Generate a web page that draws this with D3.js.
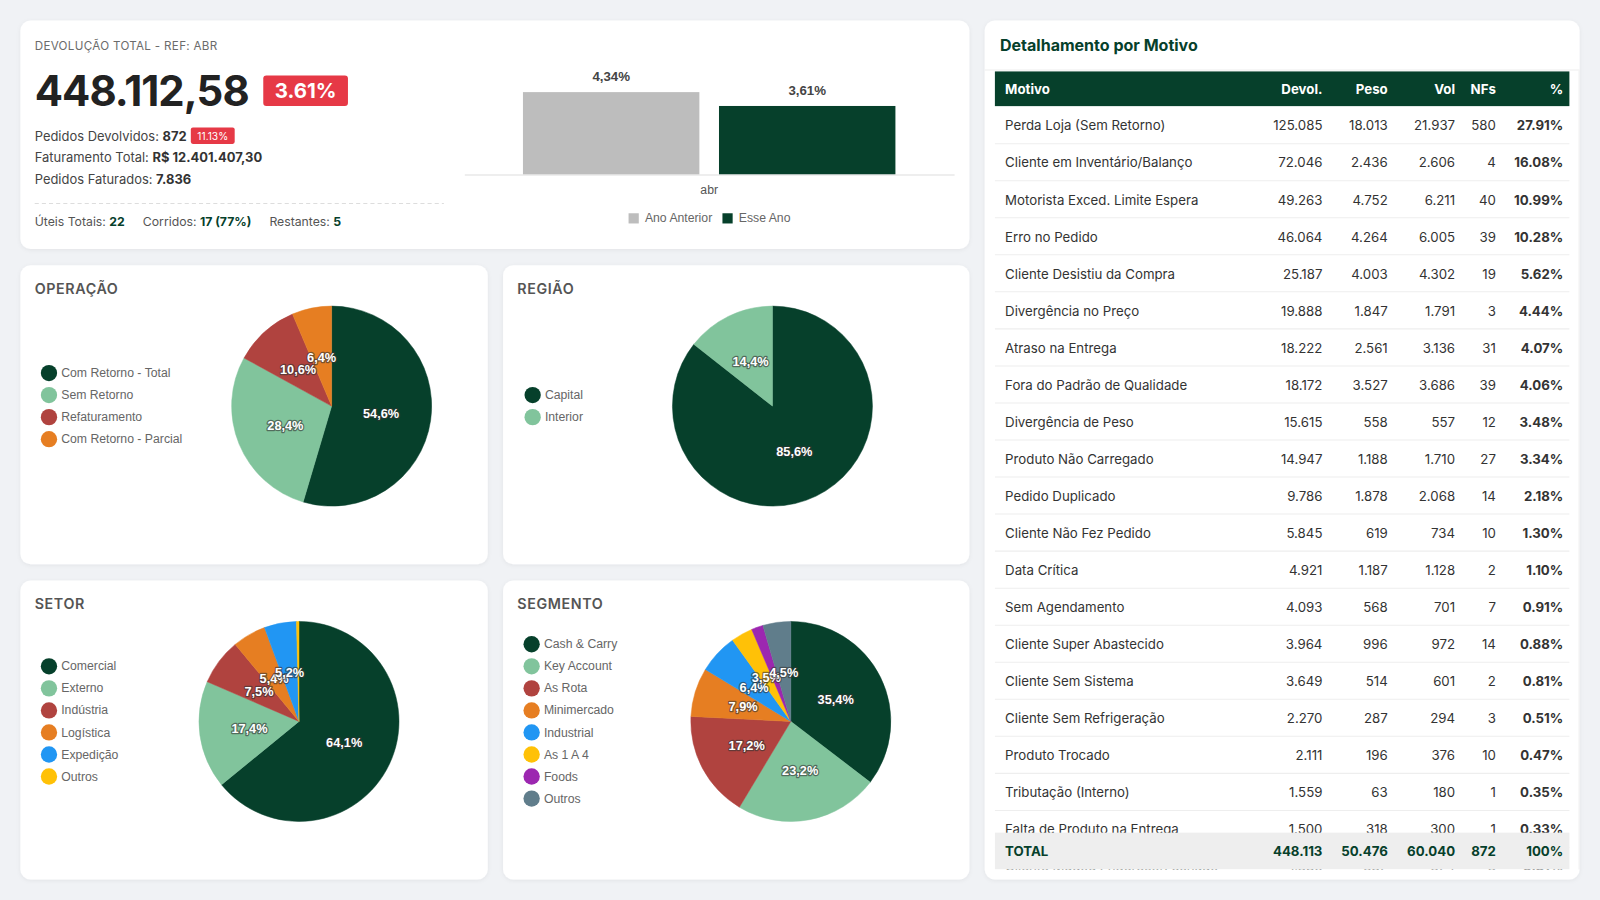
<!DOCTYPE html>
<html><head><meta charset="utf-8">
<script src="https://cdn.jsdelivr.net/npm/d3@7"></script>
<style>
body{margin:0;background:#f0f2f5;overflow:hidden;}
svg{display:block;}
svg text{font-family:Inter,"Noto Sans",sans-serif;}
svg text.gc{font-family:"Liberation Sans",Arial,sans-serif;}
</style></head><body>
<svg id="c" width="1600" height="900" viewBox="0 0 1568 882"></svg>
<script>
// ---------- DATA ----------
const kpiTitle = "DEVOLUÇÃO TOTAL - REF: ABR";
const kpiValue = "448.112,58";
const kpiBadge = "3.61%";
const kpiLines = [
  ["Pedidos Devolvidos: ", "872"],
  ["Faturamento Total: ", "R$ 12.401.407,30"],
  ["Pedidos Faturados: ", "7.836"]
];
const kpiSmallBadge = "11.13%";
const kpiDays = [["Úteis Totais: ", "22"], ["Corridos: ", "17 (77%)"], ["Restantes: ", "5"]];

const barCategories = ["abr"];
const barSeries = ["Ano Anterior", "Esse Ano"];
const barValues = [4.34, 3.61];
const barColors = ["#bdbdbd", "#06402b"];

const opLabels = ["Com Retorno - Total", "Sem Retorno", "Refaturamento", "Com Retorno - Parcial"];
const opValues = [54.6, 28.4, 10.6, 6.4];
const regLabels = ["Capital", "Interior"];
const regValues = [85.6, 14.4];
const setorLabels = ["Comercial", "Externo", "Indústria", "Logística", "Expedição", "Outros"];
const setorValues = [64.1, 17.4, 7.5, 5.4, 5.2, 0.4];
const segLabels = ["Cash & Carry", "Key Account", "As Rota", "Minimercado", "Industrial", "As 1 A 4", "Foods", "Outros"];
const segValues = [35.4, 23.2, 17.2, 7.9, 6.4, 3.5, 1.9, 4.5];
const pieColors = ["#06402b", "#81c49c", "#b0433f", "#e67e22", "#2196f3", "#ffc107", "#9c27b0", "#607d8b"];

const tableHeader = ["Motivo", "Devol.", "Peso", "Vol", "NFs", "%"];
const motivos = ["Perda Loja (Sem Retorno)", "Cliente em Inventário/Balanço", "Motorista Exced. Limite Espera", "Erro no Pedido",
  "Cliente Desistiu da Compra", "Divergência no Preço", "Atraso na Entrega", "Fora do Padrão de Qualidade", "Divergência de Peso",
  "Produto Não Carregado", "Pedido Duplicado", "Cliente Não Fez Pedido", "Data Crítica", "Sem Agendamento",
  "Cliente Super Abastecido", "Cliente Sem Sistema", "Cliente Sem Refrigeração", "Produto Trocado", "Tributação (Interno)",
  "Falta de Produto na Entrega", "Cliente Mudou Endereço/Fechado"];
const devol = [125085, 72046, 49263, 46064, 25187, 19888, 18222, 18172, 15615, 14947, 9786, 5845, 4921, 4093, 3964, 3649, 2270, 2111, 1559, 1500, 1386];
const peso = [18013, 2436, 4752, 4264, 4003, 1847, 2561, 3527, 558, 1188, 1878, 619, 1187, 568, 996, 514, 287, 196, 63, 318, 382];
const vol = [21937, 2606, 6211, 6005, 4302, 1791, 3136, 3686, 557, 1710, 2068, 734, 1128, 701, 972, 601, 294, 376, 180, 300, 324];
const nfs = [580, 4, 40, 39, 19, 3, 31, 39, 12, 27, 14, 10, 2, 7, 14, 2, 3, 10, 1, 1, 3];
const pct = [27.91, 16.08, 10.99, 10.28, 5.62, 4.44, 4.07, 4.06, 3.48, 3.34, 2.18, 1.30, 1.10, 0.91, 0.88, 0.81, 0.51, 0.47, 0.35, 0.33, 0.31];
const totalRow = ["TOTAL", "448.113", "50.476", "60.040", "872", "100%"];

// ---------- DRAW ----------
const svg = d3.select("#c");
const G = "#06402b";
const defs = svg.append("defs");
const f = defs.append("filter").attr("id", "sh").attr("x", "-5%").attr("y", "-5%").attr("width", "110%").attr("height", "115%");
f.append("feDropShadow").attr("dx", 0).attr("dy", 1).attr("stdDeviation", 2).attr("flood-color", "#000").attr("flood-opacity", 0.06);

svg.append("rect").attr("width", 1568).attr("height", 882).attr("fill", "#f0f2f5");
function card(x, y, w, h) {
  svg.append("rect").attr("x", x).attr("y", y).attr("width", w).attr("height", h).attr("rx", 10)
    .attr("fill", "#fff").attr("filter", "url(#sh)");
}
card(20, 20, 930, 224);
card(20, 260, 458, 293);
card(493, 260, 457, 293);
card(20, 569, 458, 293);
card(493, 569, 457, 293);
card(965, 20, 583, 842);

// KPI
svg.append("text").attr("x", 34).attr("y", 49).attr("font-size", 11.4).attr("fill", "#6b6b6b").attr("letter-spacing", 0.3).text(kpiTitle);
svg.append("text").attr("x", 34).attr("y", 104).attr("font-size", 41).attr("font-weight", 700).attr("fill", "#222").attr("letter-spacing", -0.9).text(kpiValue);
svg.append("rect").attr("x", 258).attr("y", 74).attr("width", 83).attr("height", 30).attr("rx", 3).attr("fill", "#e63946");
svg.append("text").attr("x", 299.5).attr("y", 96).attr("text-anchor", "middle").attr("font-size", 20).attr("font-weight", 700).attr("fill", "#fff").text(kpiBadge);
kpiLines.forEach((l, i) => {
  const t = svg.append("text").attr("x", 34).attr("y", 138 + i * 21).attr("font-size", 12.7).attr("fill", "#444");
  t.append("tspan").text(l[0]);
  t.append("tspan").attr("font-weight", 700).attr("fill", "#333").text(l[1]);
});
svg.append("rect").attr("x", 187).attr("y", 125).attr("width", 43).attr("height", 16).attr("rx", 2).attr("fill", "#e63946");
svg.append("text").attr("x", 208.5).attr("y", 137).attr("text-anchor", "middle").attr("font-size", 10).attr("fill", "#fff").text(kpiSmallBadge);
svg.append("line").attr("x1", 34).attr("x2", 435).attr("y1", 199.5).attr("y2", 199.5).attr("stroke", "#ddd").attr("stroke-dasharray", "4,3");
const dayX = [34, 140, 264];
kpiDays.forEach((d, i) => {
  const t = svg.append("text").attr("x", dayX[i]).attr("y", 221.5).attr("font-size", 12).attr("fill", "#555");
  t.append("tspan").text(d[0]);
  t.append("tspan").attr("font-weight", 700).attr("fill", G).text(d[1]);
});

// Bar chart
const x0 = d3.scaleBand().domain(barCategories).range([455, 935]).paddingInner(0).paddingOuter(0.1575);
const x1 = d3.scaleBand().domain(barSeries).range([0, x0.bandwidth()]).paddingInner(0.1);
const yB = d3.scaleLinear().domain([0, 5]).range([171, 78]);
barCategories.forEach(c => {
  barSeries.forEach((s, i) => {
    const bx = x0(c) + x1(s);
    svg.append("rect").attr("x", bx).attr("y", yB(barValues[i])).attr("width", x1.bandwidth())
      .attr("height", yB(0) - yB(barValues[i])).attr("fill", barColors[i]);
    svg.append("text").attr("class", "gc").attr("x", bx + x1.bandwidth() / 2).attr("y", yB(barValues[i]) - 11)
      .attr("text-anchor", "middle").attr("font-size", 13).attr("font-weight", 700).attr("fill", "#444")
      .text(barValues[i].toFixed(2).replace(".", ",") + "%");
  });
});
const xAxis = svg.append("g").attr("transform", "translate(0,171)").call(d3.axisBottom(x0).tickSize(0).tickPadding(11));
xAxis.select(".domain").attr("stroke", "#ddd");
xAxis.selectAll("text").attr("class", "gc").attr("font-size", 12).attr("fill", "#555");
const legX = [616, 708];
barSeries.forEach((s, i) => {
  svg.append("rect").attr("x", legX[i]).attr("y", 209).attr("width", 10).attr("height", 10).attr("fill", barColors[i]);
  svg.append("text").attr("class", "gc").attr("x", legX[i] + 16).attr("y", 218).attr("font-size", 12).attr("fill", "#666").text(s);
});

// Pies
function pieCard(title, tx, ty, cx, cy, r, labels, values, lx) {
  svg.append("text").attr("x", tx).attr("y", ty).attr("font-size", 14).attr("font-weight", 600).attr("fill", "#555")
    .attr("letter-spacing", 0.6).text(title);
  const pie = d3.pie().sort(null).value(d => d)(values);
  const arc = d3.arc().innerRadius(0).outerRadius(r);
  const lab = d3.arc().innerRadius(r * 0.5).outerRadius(r * 0.5);
  const g = svg.append("g").attr("transform", `translate(${cx},${cy})`);
  g.selectAll("path").data(pie).join("path").attr("d", arc).attr("fill", (d, i) => pieColors[i])
    .attr("stroke", (d, i) => pieColors[i]).attr("stroke-width", 0.5);
  g.selectAll("text").data(pie.filter(d => d.data >= 2)).join("text").attr("class", "gc")
    .attr("transform", d => `translate(${lab.centroid(d)})`).attr("text-anchor", "middle").attr("dy", "0.36em")
    .attr("font-size", 12.5).attr("font-weight", 700).attr("fill", "#fff")
    .attr("stroke", "#333").attr("stroke-opacity", 0.6).attr("stroke-width", 2.4).attr("paint-order", "stroke")
    .attr("stroke-linejoin", "round")
    .text(d => d.data.toFixed(1).replace(".", ",") + "%");
  const sp = 21.6;
  const y0 = cy - (labels.length - 1) * sp / 2;
  labels.forEach((l, i) => {
    svg.append("circle").attr("cx", lx).attr("cy", y0 + i * sp).attr("r", 8).attr("fill", pieColors[i]);
    svg.append("text").attr("class", "gc").attr("x", lx + 12).attr("y", y0 + i * sp + 4).attr("font-size", 12)
      .attr("fill", "#666").text(l);
  });
}
pieCard("OPERAÇÃO", 34, 288, 325, 398, 98, opLabels, opValues, 48);
pieCard("REGIÃO", 507, 288, 757, 398, 98, regLabels, regValues, 522);
pieCard("SETOR", 34, 597, 293, 707, 98, setorLabels, setorValues, 48);
pieCard("SEGMENTO", 507, 597, 775, 707, 98, segLabels, segValues, 521);

// Table
const fmt = d3.formatLocale({decimal: ",", thousands: ".", grouping: [3], currency: ["R$", ""]}).format(",d");
svg.append("text").attr("x", 980).attr("y", 50).attr("font-size", 15.7).attr("font-weight", 700).attr("fill", G).text("Detalhamento por Motivo");
svg.append("line").attr("x1", 965).attr("x2", 1548).attr("y1", 68.5).attr("y2", 68.5).attr("stroke", "#eee");
svg.append("line").attr("x1", 1547.5).attr("x2", 1547.5).attr("y1", 69).attr("y2", 852).attr("stroke", "#eee");
defs.append("clipPath").attr("id", "tc").append("rect").attr("x", 965).attr("y", 69).attr("width", 580).attr("height", 783);
const tg = svg.append("g").attr("clip-path", "url(#tc)");
const colX = [985, 1296, 1360, 1426, 1466, 1532];
tg.append("rect").attr("x", 975).attr("y", 70).attr("width", 563).attr("height", 34).attr("fill", G);
tableHeader.forEach((h, i) => {
  tg.append("text").attr("x", colX[i]).attr("y", 92).attr("text-anchor", i ? "end" : "start").attr("font-size", 13)
    .attr("font-weight", 700).attr("fill", "#fff").text(h);
});
const rowH = 36.3;
const yRow = d3.scaleLinear().domain([0, 1]).range([104, 104 + rowH]);
motivos.forEach((m, i) => {
  const yc = yRow(i) + rowH / 2 + 1.2;
  const cells = [m, fmt(devol[i]), fmt(peso[i]), fmt(vol[i]), String(nfs[i]), pct[i].toFixed(2) + "%"];
  cells.forEach((c, j) => {
    tg.append("text").attr("x", colX[j]).attr("y", yc + 4.5).attr("text-anchor", j ? "end" : "start")
      .attr("font-size", 13).attr("font-weight", j === 5 ? 700 : 400).attr("fill", "#333").text(c);
  });
  tg.append("line").attr("x1", 975).attr("x2", 1538).attr("y1", yRow(i + 1) + 0.5).attr("y2", yRow(i + 1) + 0.5).attr("stroke", "#eee");
});
tg.append("rect").attr("x", 975).attr("y", 816).attr("width", 563).attr("height", 36).attr("fill", "#eeeeee");
totalRow.forEach((c, j) => {
  tg.append("text").attr("x", colX[j]).attr("y", 839).attr("text-anchor", j ? "end" : "start").attr("font-size", 13)
    .attr("font-weight", 700).attr("fill", G).text(c);
});
</script></body></html>
